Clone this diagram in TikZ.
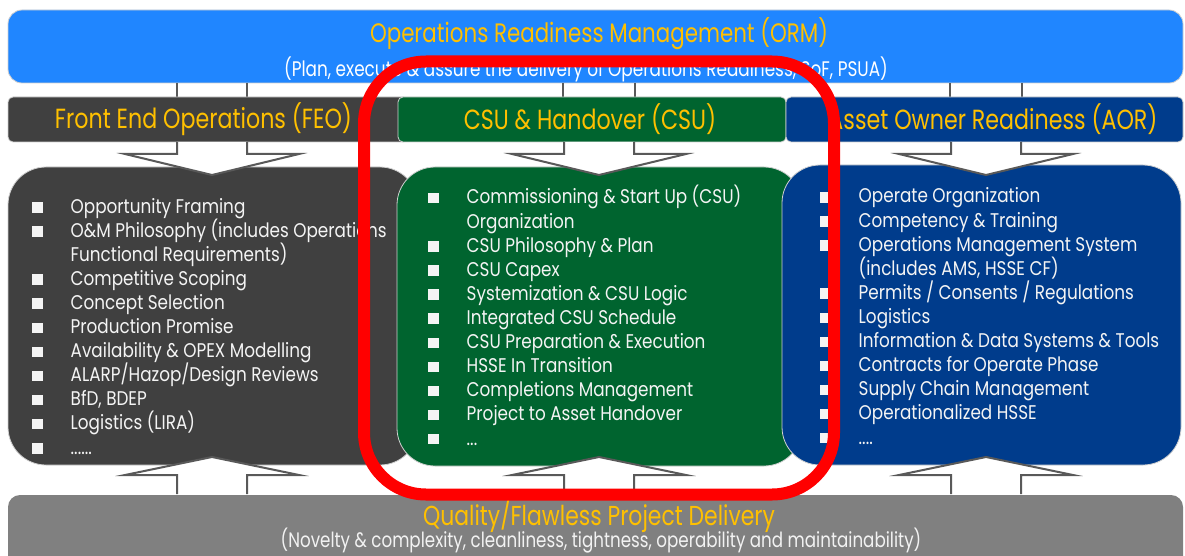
\documentclass[tikz,border=0pt]{standalone}
\usepackage{fontspec}
\setmainfont[FakeStretch=0.8]{Poppins}
\newfontfamily\bodyfont[FakeStretch=0.85]{Poppins}
\definecolor{ormblue}{HTML}{2086FF}
\definecolor{feogray}{HTML}{404040}
\definecolor{csugreen}{HTML}{00642F}
\definecolor{aornavy}{HTML}{003C8C}
\definecolor{qualgray}{HTML}{808080}
\definecolor{arrowgray}{HTML}{595959}
\definecolor{gold}{HTML}{FFC000}
\definecolor{edgegray}{HTML}{D0D0D0}
\definecolor{listwhite}{HTML}{F4F4F4}
\newcommand\sq{\raisebox{0.5pt}{\rule{10.5pt}{10.5pt}}}
\newcommand\bitem[1]{\sq & \smash{#1}\\}
\newcommand\citem[1]{ & \smash{#1}\\}
\newcommand\itemlist[1]{\bodyfont\fontsize{19.8}{24.1}\selectfont\begin{tabular}[t]{@{}l@{\hspace{28pt}}l@{}}#1\end{tabular}}
\tikzset{
  bigbox/.style={draw=edgegray, line width=0.8pt, rounded corners=14pt, inner sep=0pt},
  hdrbox/.style={draw=edgegray, line width=0.8pt, rounded corners=5pt, inner sep=0pt,
    minimum height=45pt},
  cbox/.style={draw=edgegray, line width=0.8pt, rounded corners=38pt, inner sep=0pt},
  stemline/.style={draw=arrowgray, line width=2pt},
  hollowarrow/.style={fill=white, draw=arrowgray, line width=2pt, line join=miter},
  listtext/.style={text=listwhite, inner sep=0pt, anchor=base west},
  titletext/.style={text=gold, inner sep=0pt, font=\fontsize{27.7}{30}\selectfont},
  subtext/.style={inner sep=0pt, font=\fontsize{21.1}{24}\selectfont},
  focusframe/.style={draw=red, line width=12pt, rounded corners=62pt, inner sep=0pt}
}
\begin{document}
\begin{tikzpicture}[x=1pt,y=-1pt]
\useasboundingbox (0,0) rectangle (1185,556);
\fill[white] (0,0) rectangle (1185,556);

% top box
\node[bigbox, fill=ormblue, minimum width=1175pt, minimum height=73pt] (orm) at (595.5,46.5) {};
\node[titletext, font=\fontsize{26.7}{30}\selectfont] (ormtitle) at (599,34) {Operations Readiness Management (ORM)};
\node[subtext, text=white] (ormsub) at (586,69) {(Plan, execute \& assure the delivery of Operations Readiness, SoF, PSUA)};

% stems from the top box to the headers
\foreach \sx in {177,247,563,635,950,1022}{
  \coordinate (st\sx) at (\sx,83);
  \draw[stemline] (st\sx) -- ++(0,14);
}

% content boxes
\node[cbox, fill=feogray, minimum width=410pt, minimum height=298pt] (feobox) at (213,316) {};
\node[cbox, fill=csugreen, minimum width=405pt, minimum height=299pt] (csubox) at (599.5,316.5) {};
\node[cbox, fill=aornavy, minimum width=399pt, minimum height=300pt] (aorbox) at (981.5,315) {};

% headers
\node[hdrbox, fill=feogray, minimum width=400pt] (feoh) at (208,119.5) {};
\node[hdrbox, fill=csugreen, minimum width=388pt] (csuh) at (592,119.5) {};
\node[hdrbox, fill=aornavy, minimum width=397pt] (aorh) at (984.5,119.5) {};
\node[titletext] (feot) at (203.5,119) {Front End Operations (FEO)};
\node[titletext] (csut) at (590,119) {CSU \& Handover (CSU)};
\node[titletext] (aort) at (993,119) {Asset Owner Readiness (AOR)};

% quality box
\fill[qualgray, rounded corners=12pt] (8,495) rectangle (1183,580);
\coordinate (qualtop) at (595.5,495);
\node[titletext, font=\fontsize{27.4}{30}\selectfont] (qualt) at (599,516) {Quality/Flawless Project Delivery};
\node[subtext, text=white!95!black, font=\fontsize{20.9}{24}\selectfont] (quals) at (601,541) {(Novelty \& complexity, cleanliness, tightness, operability and maintainability)};

% hollow arrows
\foreach \cx in {212,599,986}{
  \coordinate (dn\cx) at (\cx,175);
  \draw[hollowarrow] (\cx-35,142) -- (\cx-35,154) -- (\cx-87,154) -- (dn\cx) -- (\cx+87,154) -- (\cx+35,154) -- (\cx+35,142);
  \coordinate (up\cx) at (\cx,457);
  \draw[hollowarrow] (\cx-35,494) -- (\cx-35,475) -- (\cx-87,475) -- (up\cx) -- (\cx+87,475) -- (\cx+35,475) -- (\cx+35,494);
}

% lists
\node[listtext] (feolist) at (32,213) {\itemlist{%
\bitem{Opportunity Framing}
\bitem{O\&M Philosophy (includes Operations}
\citem{Functional Requirements)}
\bitem{Competitive Scoping}
\bitem{Concept Selection}
\bitem{Production Promise}
\bitem{Availability \& OPEX Modelling}
\bitem{ALARP/Hazop/Design Reviews}
\bitem{BfD, BDEP}
\bitem{Logistics (LIRA)}
\sq & \smash{......}}};

\node[listtext] (csulist) at (428,204) {\itemlist{%
\bitem{Commissioning \& Start Up (CSU)}
\citem{Organization}
\bitem{CSU Philosophy \& Plan}
\bitem{CSU Capex}
\bitem{Systemization \& CSU Logic}
\bitem{Integrated CSU Schedule}
\bitem{CSU Preparation \& Execution}
\bitem{HSSE In Transition}
\bitem{Completions Management}
\bitem{Project to Asset Handover}
\sq & \smash{...}}};

\node[listtext] (aorlist) at (820,203) {\itemlist{%
\bitem{Operate Organization}
\bitem{Competency \& Training}
\bitem{Operations Management System}
\citem{(includes AMS, HSSE CF)}
\bitem{Permits / Consents / Regulations}
\bitem{Logistics}
\bitem{Information \& Data Systems \& Tools}
\bitem{Contracts for Operate Phase}
\bitem{Supply Chain Management}
\bitem{Operationalized HSSE}
\sq & \smash{....}}};

% red focus frame
\node[focusframe, minimum width=470pt, minimum height=433pt] (focus) at (599,278) {};
\end{tikzpicture}
\end{document}
